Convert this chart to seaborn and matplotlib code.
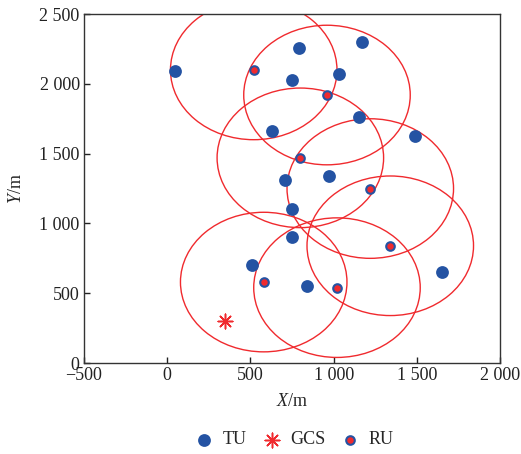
import numpy as np
import pandas as pd
import matplotlib
matplotlib.use("Agg")
import matplotlib.pyplot as plt
from matplotlib.patches import Circle
from matplotlib.ticker import FuncFormatter
import seaborn as sns

# --- Data ---
tu_x = [50, 790, 1170, 750, 1030, 1150, 630, 1490, 970, 710, 750, 750, 510, 840, 1650]
tu_y = [2090, 2260, 2300, 2030, 2070, 1760, 1660, 1630, 1340, 1310, 1100, 900, 700, 550, 650]

ru_x = [520, 960, 800, 1220, 1340, 580, 1020]
ru_y = [2100, 1920, 1470, 1250, 840, 580, 540]

gcs_x = [350]
gcs_y = [300]

coverage_radius = 500

x_ticks = [-500, 0, 500, 1000, 1500, 2000]
y_ticks = [0, 500, 1000, 1500, 2000, 2500]

blue = "#2453a3"
red = "#f02a2e"

sns.set_style("white")
plt.rcParams["font.family"] = ["Liberation Serif", "DejaVu Serif"]
plt.rcParams["mathtext.fontset"] = "custom"
plt.rcParams["mathtext.it"] = "Liberation Serif:italic"
plt.rcParams["mathtext.rm"] = "Liberation Serif"

tu = pd.DataFrame({"x": tu_x, "y": tu_y})
ru = pd.DataFrame({"x": ru_x, "y": ru_y})
gcs = pd.DataFrame({"x": gcs_x, "y": gcs_y})

fig = plt.figure(figsize=(5.21, 4.54), dpi=100)
ax = fig.add_axes([0.161, 0.2004, 0.799, 0.7686])

# coverage circles around each RU
for cx, cy in zip(ru_x, ru_y):
    ax.add_patch(Circle((cx, cy), coverage_radius, fill=False, edgecolor=red, linewidth=1.0, zorder=1))

sns.scatterplot(data=tu, x="x", y="y", ax=ax, color=blue, s=85, edgecolor=blue,
                linewidth=0, label="TU", zorder=3)
sns.scatterplot(data=gcs, x="x", y="y", ax=ax, color=red, marker=(8, 2, 0), s=110,
                linewidth=1.1, label="GCS", zorder=3)
sns.scatterplot(data=ru, x="x", y="y", ax=ax, color=red, s=38, edgecolor=blue,
                linewidth=1.5, label="RU", zorder=4)

ax.set_xlim(-500, 2000)
ax.set_ylim(0, 2500)
ax.set_xticks(x_ticks)
ax.set_yticks(y_ticks)


def fmt(v, pos):
    v = int(v)
    s = f"{abs(v):,}".replace(",", " ")
    return ("\u2212" if v < 0 else "") + s


ax.xaxis.set_major_formatter(FuncFormatter(fmt))
ax.yaxis.set_major_formatter(FuncFormatter(fmt))
ax.tick_params(direction="in", length=4, width=1, labelsize=13, colors="#222222",
               bottom=True, left=True, top=False, right=False, pad=3)
for sp in ax.spines.values():
    sp.set_color("#333333")
    sp.set_linewidth(1.0)

ax.set_xlabel(r"$X$/m", fontsize=13, labelpad=6)
ax.set_ylabel(r"$Y$/m", fontsize=13, labelpad=10)

ax.legend(loc="center", bbox_to_anchor=(0.56, 0.031), bbox_transform=fig.transFigure,
          ncol=3, frameon=False, fontsize=13, handletextpad=0.2, columnspacing=0.6,
          handlelength=1.6, borderaxespad=0)

fig.savefig("out.png", dpi=100)
